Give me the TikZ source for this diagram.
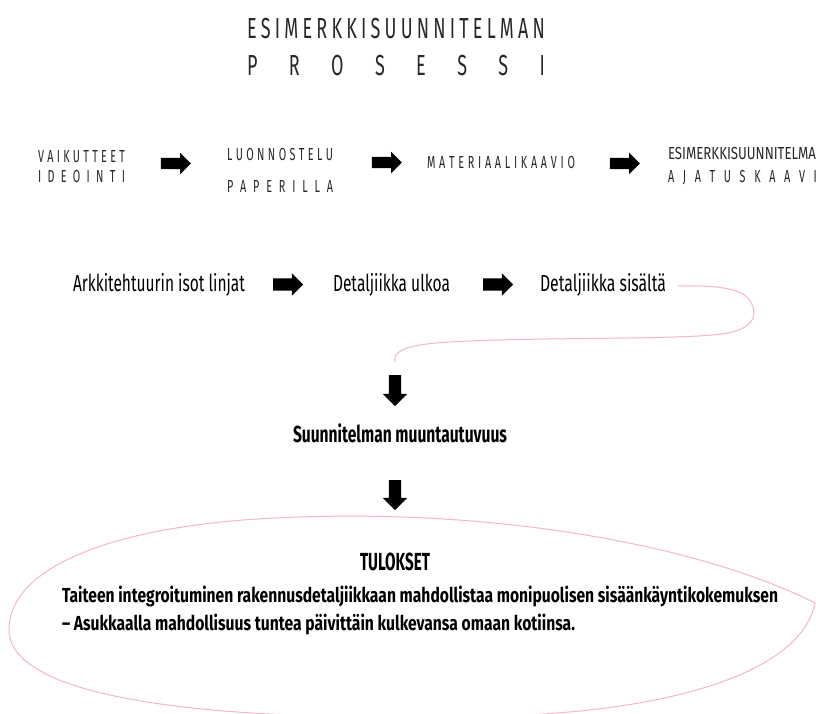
\documentclass[tikz,border=0pt]{standalone}
\usepackage{fontspec}
\setmainfont[FakeStretch=0.62]{Fira Sans}
\usetikzlibrary{shapes.arrows}
\definecolor{ink}{RGB}{40,40,40}
\definecolor{pinkline}{RGB}{244,182,200}
\makeatletter
\newcommand\spreadit[2]{\hbox to #1{\@tfor\sp@x:=#2\do{\sp@x\hfil}\unskip}}
\makeatother
\newcommand\fitw[2]{\resizebox{#1}{\height}{#2}}
\begin{document}
\begin{tikzpicture}[x=1pt,y=-1pt,
  txt/.style={anchor=base west, inner sep=0pt, outer sep=0pt, text=ink},
  titlefont/.style={font=\fontsize{29}{30}\selectfont},
  capfont/.style={font=\fontsize{17.4}{18}\selectfont},
  rowfont/.style={font=\fontsize{23.2}{24}\selectfont},
  blockarrow/.style={single arrow, fill=black, draw=none, inner xsep=0pt,
    inner ysep=5.5pt, minimum height=30pt, single arrow head extend=5pt,
    single arrow tip angle=90},
  downarrow/.style={blockarrow, rotate=-90, inner ysep=6pt,
    single arrow head extend=6pt},
  pinkstroke/.style={draw=pinkline, line width=1pt}]
\path[use as bounding box, fill=white] (0,0) rectangle (816,713);

% title
\node[txt, titlefont] (t1) at (247,38) {\spreadit{298pt}{ESIMERKKISUUNNITELMAN}};
\node[txt, titlefont] (t2) at (247,75) {\spreadit{298pt}{PROSESSI}};

% row 1
\node[txt, capfont] (v1) at (38,162) {\spreadit{87pt}{VAIKUTTEET}};
\node[txt, capfont] (v2) at (38,182) {\spreadit{87pt}{IDEOINTI}};
\node[txt, capfont] (l1) at (227,160) {\spreadit{106pt}{LUONNOSTELU}};
\node[txt, capfont] (l2) at (227,192) {\spreadit{106pt}{PAPERILLA}};
\node[txt, capfont] (m1) at (427,168) {\spreadit{148pt}{MATERIAALIKAAVIO}};
\node[txt, capfont] (e1) at (668,159) {\fitw{157pt}{ESIMERKKISUUNNITELMAN}};
\node[txt, capfont] (e2) at (668,182) {\spreadit{165pt}{AJATUSKAAVIO}};

\node[blockarrow] (a1) at (173,163.5) {};
\node[blockarrow] (a2) at (384,162.5) {};
\node[blockarrow] (a3) at (622,163.5) {};

% row 2
\node[txt, rowfont, text=black] (r1) at (73,291) {\fitw{172pt}{Arkkitehtuurin isot linjat}};
\node[txt, rowfont, text=black] (r2) at (333,291) {\fitw{117pt}{Detaljiikka ulkoa}};
\node[txt, rowfont, text=black] (r3) at (540,291) {\fitw{126pt}{Detaljiikka sisältä}};
\node[blockarrow, inner ysep=6pt] (a4) at (285,284.5) {};
\node[blockarrow, inner ysep=6pt] (a5) at (495,284.5) {};

% vertical part
\node[downarrow, minimum height=31pt] (d1) at (395,387.5) {};
\node[txt, text=black, font=\fontsize{23.2}{24}\selectfont\bfseries] (s) at (293,442) {\fitw{214pt}{Suunnitelman muuntautuvuus}};
\node[downarrow] (d2) at (395,492) {};

\coordinate (c0) at ([xshift=12pt,yshift=5pt]r3.base east);
\coordinate (c9) at (395,362);
\draw[pinkstroke] (c0) .. controls (715,285) and (738,288) .. (748,298)
  .. controls (758,310) and (758,327) .. (728,333)
  .. controls (690,340) and (560,337) .. (470,341)
  .. controls (415,343) and (392,348) .. (c9);

% results
\draw[pinkstroke] (9,630) .. controls (9,565) and (120,522) .. (300,517)
  .. controls (500,510) and (700,545) .. (815,603)
  .. controls (800,680) and (640,722) .. (420,716)
  .. controls (220,720) and (9,700) .. (9,630) -- cycle;
\node[txt, text=black, font=\fontsize{24.7}{26}\selectfont\bfseries] (tu) at (360,570) {\fitw{70pt}{TULOKSET}};
\node[txt, text=black, font=\fontsize{20.3}{22}\selectfont\bfseries] (b1) at (62,602)
  {\fitw{716pt}{Taiteen integroituminen rakennusdetaljiikkaan mahdollistaa monipuolisen sisäänkäyntikokemuksen}};
\node[txt, text=black, font=\fontsize{20.3}{22}\selectfont\bfseries] (b2) at (62,630)
  {\fitw{513pt}{– Asukkaalla mahdollisuus tuntea päivittäin kulkevansa omaan kotiinsa.}};
\end{tikzpicture}
\end{document}
